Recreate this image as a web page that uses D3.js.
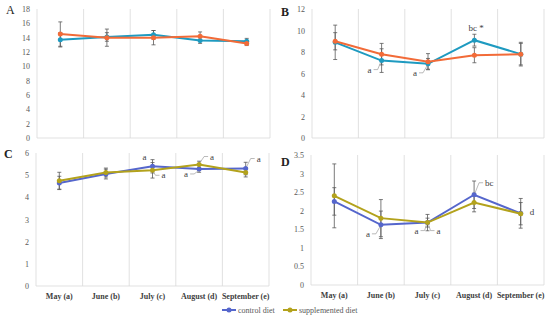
<!DOCTYPE html>
<html>
<head>
<meta charset="utf-8">
<script src="https://cdn.jsdelivr.net/npm/d3@7"></script>
<style>
  body { margin: 0; background: #fff; }
  text { font-family: "Liberation Serif", "DejaVu Serif", serif; }
</style>
</head>
<body>
<div id="chart"></div>
<script>
// months
var months = ["May (a)", "June (b)", "July (c)", "August (d)", "September (e)"];

// panel A
var aControl = [13.7, 14.1, 14.4, 13.6, 13.5];
var aControlErr = [1.0, 0.6, 0.6, 0.4, 0.4];
var aSupp = [14.5, 14.0, 14.0, 14.2, 13.2];
var aSuppErr = [1.7, 1.2, 1.0, 0.6, 0.3];
var aTicks = [0, 2, 4, 6, 8, 10, 12, 14, 16, 18];

// panel B
var bControl = [8.9, 7.2, 6.9, 9.1, 7.8];
var bControlErr = [1.6, 1.1, 0.5, 0.55, 1.0];
var bSupp = [9.0, 7.8, 7.1, 7.7, 7.8];
var bSuppErr = [0.8, 1.0, 0.75, 0.7, 1.1];
var bTicks = [0, 2, 4, 6, 8, 10, 12];

// panel C
var cControl = [4.65, 5.05, 5.4, 5.28, 5.3];
var cControlErr = [0.3, 0.22, 0.3, 0.15, 0.28];
var cSupp = [4.75, 5.12, 5.22, 5.48, 5.12];
var cSuppErr = [0.38, 0.2, 0.35, 0.15, 0.2];
var cTicks = [0, 1, 2, 3, 4, 5, 6];

// panel D
var dControl = [2.25, 1.62, 1.68, 2.43, 1.93];
var dControlErr = [0.37, 0.37, 0.22, 0.37, 0.4];
var dSupp = [2.4, 1.8, 1.68, 2.22, 1.92];
var dSuppErr = [0.86, 0.5, 0.12, 0.25, 0.3];
var dTicks = [0, 0.5, 1, 1.5, 2, 2.5, 3, 3.5];

// letter annotations: [month index, series, text, dx, dy, leader]
var bNotes = [[1, "c", "a", -14, 12, true], [2, "c", "a", -15, 12, true], [3, "c", "bc *", -6, -9, false]];
var cNotes = [[2, "c", "a", -10, -6, false], [2, "s", "a", 8, 8, true], [3, "s", "a", 10, -5, true], [3, "c", "a", -15, 8, true], [4, "c", "a", 10, -7, true]];
var dNotes = [[1, "c", "a", -15, 12, true], [2, "c", "a", -13, 11, true], [2, "s", "a", 8, 11, true], [3, "c", "bc", 10, -9, true], [4, "s", "d", 8, 1, false]];

var width = 550, height = 320;
var svg = d3.select("#chart").append("svg")
  .attr("width", width)
  .attr("height", height);

function drawPanel(o) {
  var x = d3.scaleBand().domain(months).range([o.x0, o.x1]);
  var y = d3.scaleLinear().domain([0, o.ticks[o.ticks.length - 1]]).range([o.y1, o.y0]);
  var g = svg.append("g");

  // panel letter
  g.append("text")
    .attr("x", o.lx).attr("y", o.ly)
    .attr("font-size", 12).attr("font-weight", o.bold ? "bold" : "normal").attr("fill", "#222")
    .text(o.label);

  // vertical grid lines at category boundaries
  var bounds = months.map(function (m) { return x(m); }).concat([o.x1]);
  g.selectAll(".grid").data(bounds).enter().append("line")
    .attr("x1", function (d) { return d; }).attr("x2", function (d) { return d; })
    .attr("y1", o.y0).attr("y2", o.y1)
    .attr("stroke", "#d9d9d9").attr("stroke-width", 0.8);
  g.append("line")
    .attr("x1", o.x0).attr("x2", o.x1).attr("y1", o.y1).attr("y2", o.y1)
    .attr("stroke", "#d9d9d9").attr("stroke-width", 0.8);

  // y tick labels
  g.selectAll(".yt").data(o.ticks).enter().append("text")
    .attr("x", o.x0 - 7).attr("y", function (d) { return y(d) + 3; })
    .attr("text-anchor", "end").attr("font-size", 8).attr("fill", "#595959")
    .text(function (d) { return String(d); });

  if (o.xlabels) {
    g.selectAll(".xt").data(months).enter().append("text")
      .attr("x", function (d) { return x(d) + x.bandwidth() / 2; })
      .attr("y", o.y1 + 13)
      .attr("text-anchor", "middle").attr("font-size", 8)
      .attr("font-weight", "bold").attr("fill", "#404040")
      .text(function (d) { return d; });
  }

  var cx = function (i) { return x(months[i]) + x.bandwidth() / 2; };
  var series = [
    { vals: o.control, err: o.controlErr, color: o.colors[0] },
    { vals: o.supp, err: o.suppErr, color: o.colors[1] }
  ];

  // error bars
  series.forEach(function (s) {
    var eg = g.append("g").attr("stroke", "#595959").attr("stroke-width", 0.8);
    s.vals.forEach(function (v, i) {
      var top = y(v + s.err[i]), bot = y(v - s.err[i]);
      eg.append("line").attr("x1", cx(i)).attr("x2", cx(i)).attr("y1", top).attr("y2", bot);
      eg.append("line").attr("x1", cx(i) - 2).attr("x2", cx(i) + 2).attr("y1", top).attr("y2", top);
      eg.append("line").attr("x1", cx(i) - 2).attr("x2", cx(i) + 2).attr("y1", bot).attr("y2", bot);
    });
  });

  // lines and markers
  var line = d3.line().x(function (d, i) { return cx(i); }).y(function (d) { return y(d); });
  series.forEach(function (s) {
    g.append("path").datum(s.vals)
      .attr("d", line).attr("fill", "none")
      .attr("stroke", s.color).attr("stroke-width", 2);
    g.selectAll(null).data(s.vals).enter().append("circle")
      .attr("cx", function (d, i) { return cx(i); })
      .attr("cy", function (d) { return y(d); })
      .attr("r", 2.5).attr("fill", s.color);
  });

  // annotations
  (o.notes || []).forEach(function (n) {
    var v = n[1] === "c" ? o.control[n[0]] : o.supp[n[0]];
    var px = cx(n[0]), py = y(v);
    var tx = px + n[3], ty = py + n[4];
    if (n[5]) {
      var ex = n[3] < 0 ? tx + 6 : tx - 1;
      g.append("path")
        .attr("d", "M" + ex + "," + (ty - 3) + " L" + (ex + (n[3] < 0 ? 4 : -4)) + "," + (ty - 3) +
          " L" + (px + (n[3] < 0 ? -1 : 1)) + "," + (py + (n[4] < 0 ? -2 : 2)))
        .attr("fill", "none").attr("stroke", "#8c8c8c").attr("stroke-width", 0.6);
    }
    g.append("text")
      .attr("x", n[3] < 0 ? tx : tx + 1).attr("y", ty)
      .attr("font-size", 9).attr("fill", "#404040")
      .text(n[2]);
  });
}

var colAB = ["#1e9ac0", "#f26b38"];
var colCD = ["#5566cc", "#b3a21c"];

drawPanel({ label: "A", bold: false, lx: 6, ly: 14, x0: 37, x1: 270, y0: 9, y1: 138, ticks: aTicks,
  control: aControl, controlErr: aControlErr, supp: aSupp, suppErr: aSuppErr, colors: colAB, xlabels: false });
drawPanel({ label: "B", bold: true, lx: 281, ly: 16, x0: 312, x1: 544, y0: 9, y1: 138, ticks: bTicks,
  control: bControl, controlErr: bControlErr, supp: bSupp, suppErr: bSuppErr, colors: colAB, notes: bNotes, xlabels: false });
drawPanel({ label: "C", bold: true, lx: 4, ly: 158, x0: 36, x1: 269, y0: 153, y1: 286, ticks: cTicks,
  control: cControl, controlErr: cControlErr, supp: cSupp, suppErr: cSuppErr, colors: colCD, notes: cNotes, xlabels: true });
drawPanel({ label: "D", bold: true, lx: 281, ly: 166, x0: 311, x1: 544, y0: 155, y1: 285, ticks: dTicks,
  control: dControl, controlErr: dControlErr, supp: dSupp, suppErr: dSuppErr, colors: colCD, notes: dNotes, xlabels: true });

// legend
var legendItems = [
  { name: "control diet", color: colCD[0], x: 222 },
  { name: "supplemented diet", color: colCD[1], x: 283 }
];
var lg = svg.append("g");
legendItems.forEach(function (d) {
  lg.append("line").attr("x1", d.x).attr("x2", d.x + 14).attr("y1", 310).attr("y2", 310)
    .attr("stroke", d.color).attr("stroke-width", 2);
  lg.append("circle").attr("cx", d.x + 7).attr("cy", 310).attr("r", 2.5).attr("fill", d.color);
  lg.append("text").attr("x", d.x + 16).attr("y", 313)
    .attr("font-size", 8).attr("fill", "#595959").text(d.name);
});
</script>
</body>
</html>
